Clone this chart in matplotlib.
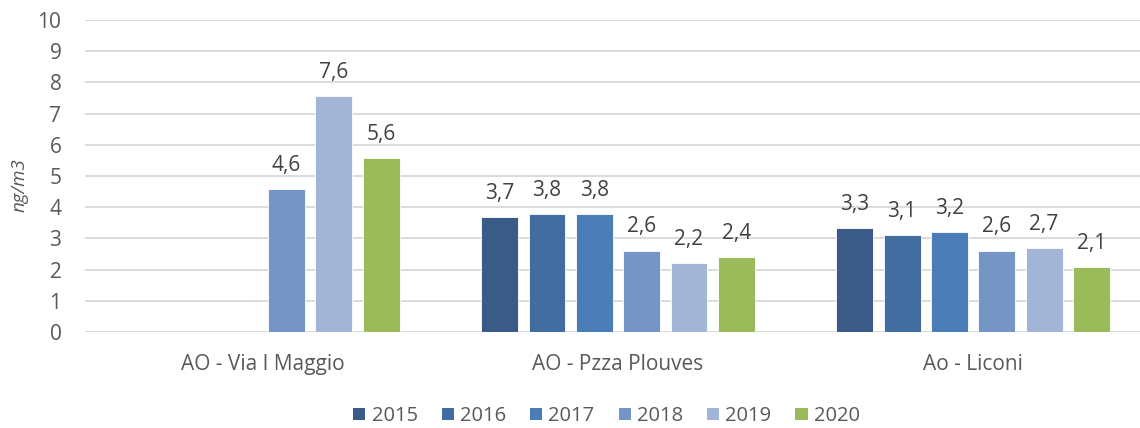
import matplotlib.pyplot as plt
import numpy as np

plt.rcParams['font.family'] = ['Open Sans', 'DejaVu Sans']

# ── Data ──
stations = ["AO - Via I Maggio", "AO - Pzza Plouves", "Ao - Liconi"]
years = ["2015", "2016", "2017", "2018", "2019", "2020"]
values = {
    "2015": [None, 3.68, 3.34],
    "2016": [None, 3.78, 3.10],
    "2017": [None, 3.77, 3.21],
    "2018": [4.58, 2.61, 2.61],
    "2019": [7.56, 2.20, 2.70],
    "2020": [5.57, 2.39, 2.09],
}
colors = ["#3A5B88", "#416CA0", "#4A7DB8", "#7595C6", "#A3B5D6", "#9BBA59"]

fig = plt.figure(figsize=(11.4, 4.28), dpi=100)
ax = fig.add_axes([85 / 1140, 1 - 332 / 428, 1055 / 1140, 312 / 428])

x = np.arange(len(stations))
step = 0.1333
width = 0.104
for i, yr in enumerate(years):
    pos = x + (i - 2.5) * step
    for p, v in zip(pos, values[yr]):
        if v is None:
            continue
        ax.bar(p, v, width=width, color=colors[i], edgecolor="white", linewidth=0.6, zorder=3)
        ax.text(p, v + 0.42, f"{v:.1f}".replace(".", ","), ha="center", va="bottom",
                fontsize=15, color="#404040")
    ax.bar(0, 0, width=0, color=colors[i], label=yr)

ax.set_ylim(0, 10)
ax.set_xlim(-0.501, 2.47)
ax.set_yticks(range(0, 11))
ax.yaxis.grid(True, color="#D9D9D9", linewidth=1.3, zorder=0)
ax.set_xticks(x)
ax.set_xticklabels(stations)
ax.tick_params(axis="both", length=0, labelsize=15, colors="#595959")
ax.tick_params(axis="x", pad=16)
ax.tick_params(axis="y", pad=17)
for s in ax.spines.values():
    s.set_visible(False)

fig.text(20 / 1140, 1 - 185 / 428, "ng/m3", rotation=90, style="italic",
         fontsize=13.5, color="#595959", ha="center", va="center")

fig.legend(loc="center", bbox_to_anchor=(0.532, 1 - 416 / 428), ncol=6, frameon=False,
           fontsize=14.5, labelcolor="#595959", handlelength=0.6, handleheight=0.6,
           handletextpad=0.3, columnspacing=1.2)

plt.savefig("out.png")
